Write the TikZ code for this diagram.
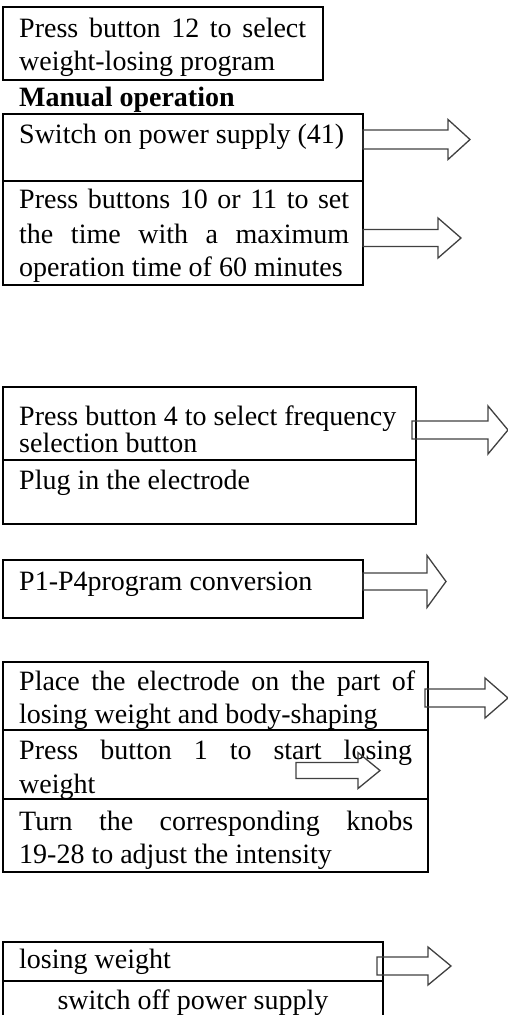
\documentclass[tikz,border=0pt]{standalone}
\usepackage{fontspec}
\setmainfont{Liberation Serif}
\newcommand\blockarr[6]{% x0, x head, x tip, y centre, shaft half, head half
  \draw[barrow] (#1,#4-#5) -- (#2,#4-#5) -- (#2,#4-#6) -- (#3,#4) -- (#2,#4+#6) -- (#2,#4+#5) -- (#1,#4+#5) -- cycle;}
\begin{document}
\begin{tikzpicture}[x=1pt,y=-1pt,
  box/.style={draw=black,line width=2pt},
  barrow/.style={draw=black!75,line width=1.3pt,line join=miter},
  txt/.style={anchor=base west,inner sep=0pt,font=\fontsize{28}{33}\selectfont}]
\useasboundingbox (0,0) rectangle (508,1015);
\clip (0,0) rectangle (508,1015);
% boxes
\draw[box] (3,7) rectangle (323,80);
\draw[box] (3,114) rectangle (363,181);
\draw[box] (3,181) rectangle (363,285);
\draw[box] (3,387) rectangle (416,460);
\draw[box] (3,460) rectangle (416,524);
\draw[box] (3,560) rectangle (363,618);
\draw[box] (3,662) rectangle (428,730);
\draw[box] (3,730) rectangle (428,799);
\draw[box] (3,799) rectangle (428,872);
\draw[box] (3,942) rectangle (383,981);
\draw[box] (3,981) rectangle (383,1030);
% texts
\node[txt] (t1a) at (19,37) {\makebox[287pt][s]{Press button 12 to select}};
\node[txt] (t1b) at (19,70) {weight-losing program};
\node[txt,font=\fontsize{28}{33}\selectfont\bfseries] (mo) at (19,106) {Manual operation};
\node[txt] (t2) at (19,143) {Switch on power supply (41)};
\node[txt] (t3a) at (19,208) {\makebox[330pt][s]{Press buttons 10 or 11 to set}};
\node[txt] (t3b) at (19,243) {\makebox[330pt][s]{the time with a maximum}};
\node[txt] (t3c) at (19,276) {operation time of 60 minutes};
\node[txt] (t4a) at (19,425) {Press button 4 to select frequency};
\node[txt] (t4b) at (19,452) {selection button};
\node[txt] (t5) at (19,489) {Plug in the electrode};
\node[txt] (t6) at (19,590) {P1-P4program conversion};
\node[txt] (t7a) at (19,690) {\makebox[396pt][s]{Place the electrode on the part of}};
\node[txt] (t7b) at (19,723) {losing weight and body-shaping};
\node[txt] (t8a) at (19,759) {\makebox[393pt][s]{Press button 1 to start losing}};
\node[txt] (t8b) at (19,793) {weight};
\node[txt] (t9a) at (19,830) {\makebox[394pt][s]{Turn the corresponding knobs}};
\node[txt] (t9b) at (19,863) {19-28 to adjust the intensity};
\node[txt] (t10) at (19,968) {losing weight};
\node[txt,anchor=base] (t11) at (193,1009) {switch off power supply};
% block arrows
\blockarr{363}{448}{470}{139.5}{9.5}{20}
\blockarr{363}{438}{461}{238}{8.5}{20}
\blockarr{412}{488}{508}{430}{9}{24}
\blockarr{363}{427}{446}{581.5}{8.5}{26}
\blockarr{425}{485}{508}{698}{9}{20}
\blockarr{296}{358}{380}{770.5}{8}{18}
\blockarr{377}{428}{451}{966}{9}{19}
\end{tikzpicture}
\end{document}
